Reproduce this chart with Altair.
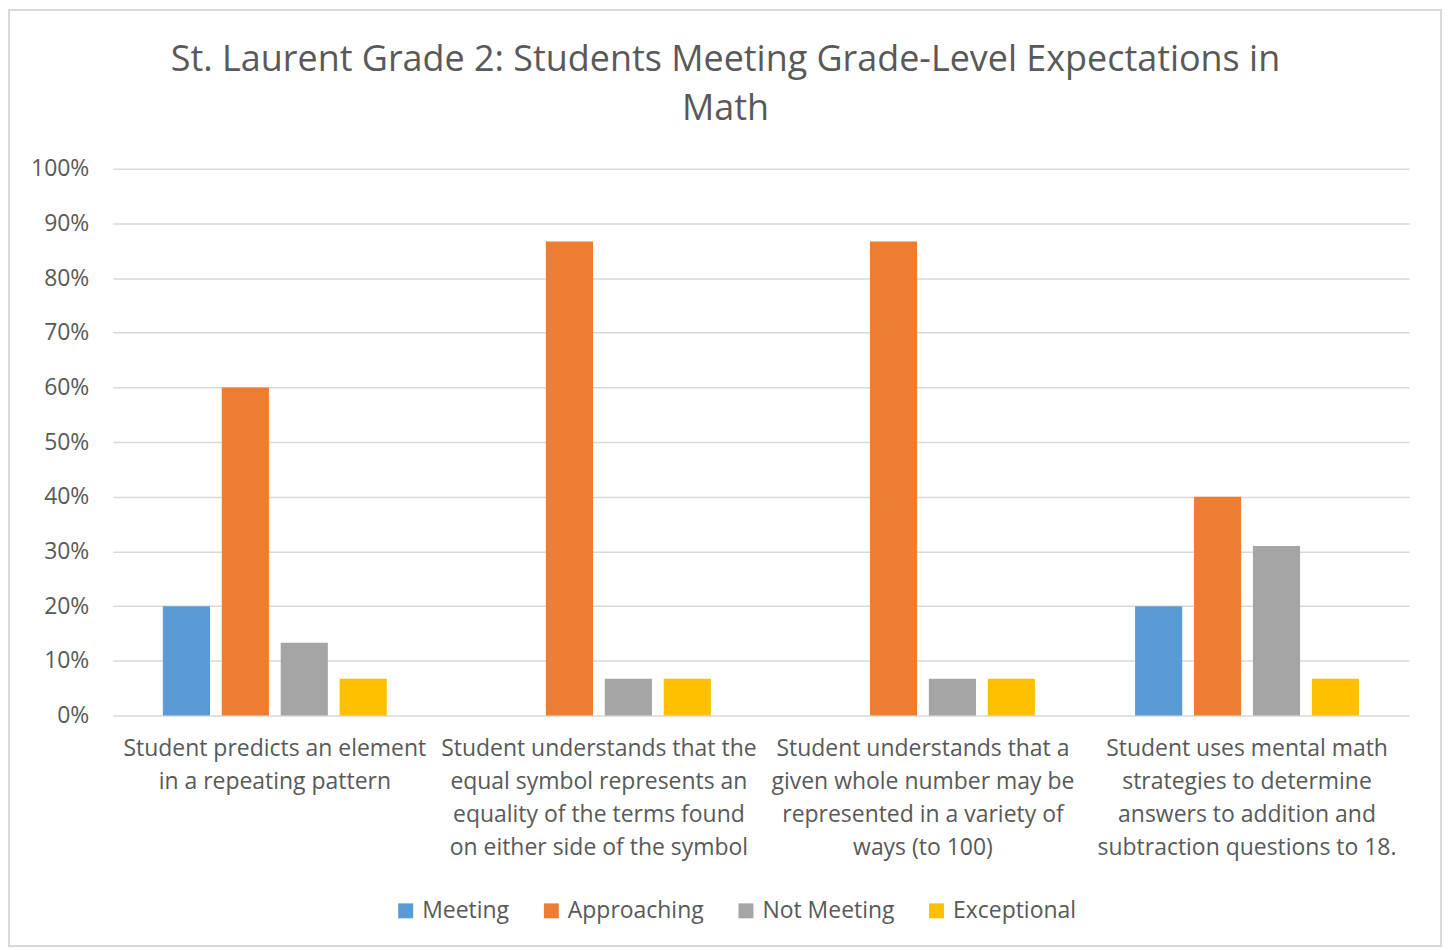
import altair as alt
import pandas as pd

categories = [
    "Student predicts an element|in a repeating pattern",
    "Student understands that the|equal symbol represents an|equality of the terms found|on either side of the symbol",
    "Student understands that a|given whole number may be|represented in a variety of|ways (to 100)",
    "Student uses mental math|strategies to determine|answers to addition and|subtraction questions to 18.",
]
series = ["Meeting", "Approaching", "Not Meeting", "Exceptional"]
meeting = [0.20, 0.0, 0.0, 0.20]
approaching = [0.60, 0.867, 0.867, 0.40]
not_meeting = [0.133, 0.067, 0.067, 0.31]
exceptional = [0.067, 0.067, 0.067, 0.067]
colors = ["#5B9BD5", "#ED7D31", "#A5A5A5", "#FFC000"]
y_ticks = [0, 0.1, 0.2, 0.3, 0.4, 0.5, 0.6, 0.7, 0.8, 0.9, 1.0]
title_text = "St. Laurent Grade 2: Students Meeting Grade-Level Expectations in\nMath"

rows = []
for s, vals in zip(series, [meeting, approaching, not_meeting, exceptional]):
    for c, v in zip(categories, vals):
        rows.append({"category": c, "series": s, "value": v})
df = pd.DataFrame(rows)

W, H = 1299, 548
PL, PT, PR, PB = 105, 160, 33, 232
FONT = "Open Sans"
TXT = "#595959"

bars = alt.Chart(df).mark_bar(strokeWidth=0).encode(
    x=alt.X("category:N", sort=categories, title=None,
            scale=alt.Scale(paddingInner=0, paddingOuter=0),
            axis=alt.Axis(labelAngle=0, labelExpr="split(datum.label, '|')",
                          labelFontSize=23, labelLineHeight=33, labelPadding=22,
                          labelColor=TXT, labelFont=FONT, ticks=False, domain=False,
                          labelLimit=400)),
    xOffset=alt.XOffset("series:N", sort=series,
                        scale=alt.Scale(paddingInner=0.2, paddingOuter=0.85)),
    y=alt.Y("value:Q", title=None, scale=alt.Scale(domain=[0, 1]),
            axis=alt.Axis(values=y_ticks, format=".0%", labelFontSize=23,
                          labelColor=TXT, labelFont=FONT, labelPadding=24,
                          ticks=False, domain=False, gridColor="#D9D9D9",
                          gridWidth=1.5)),
    color=alt.Color("series:N", sort=series,
                    scale=alt.Scale(domain=series, range=colors),
                    legend=alt.Legend(title=None, orient="none", direction="horizontal",
                                      legendX=282, legendY=732, symbolType="square",
                                      symbolSize=225, symbolStrokeWidth=0,
                                      labelFontSize=23, labelFont=FONT, labelColor=TXT,
                                      columnPadding=30, labelOffset=5)),
)

border = alt.Chart(pd.DataFrame({"a": [0]})).mark_rect(
    fill="transparent", stroke="#D9D9D9", strokeWidth=2
).encode(
    x=alt.value(-PL + 1), x2=alt.value(W + PR - 1),
    y=alt.value(-PT + 1), y2=alt.value(H + PB - 1),
)

title = alt.Chart(pd.DataFrame({"t": [title_text]})).mark_text(
    font=FONT, fontSize=36, color=TXT, align="center", baseline="middle",
    lineBreak="\n", lineHeight=49
).encode(
    text="t:N", x=alt.value(614), y=alt.value(-109),
)

chart = alt.layer(bars, border, title).properties(
    width=W, height=H,
    background="white",
    autosize=alt.AutoSizeParams(type="none"),
    padding={"left": PL, "top": PT, "right": PR, "bottom": PB},
).configure_view(strokeWidth=0)

chart.save("out.html", embed_options={"renderer": "svg", "actions": False})
